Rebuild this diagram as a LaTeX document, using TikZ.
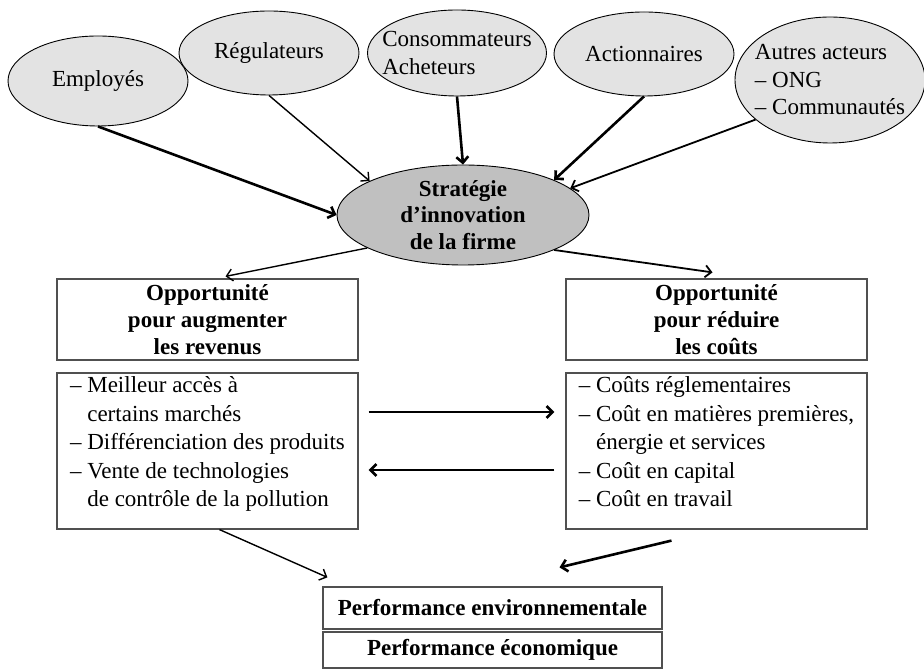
\documentclass[tikz,border=0pt]{standalone}
\usepackage{fontspec}
\setmainfont{Liberation Serif}
\usetikzlibrary{shapes.geometric,arrows.meta}
\definecolor{actorgray}{HTML}{E3E3E3}
\definecolor{hubgray}{HTML}{C0C0C0}
\definecolor{framegray}{HTML}{505050}

\begin{document}
\begin{tikzpicture}[x=1pt,y=1pt,
  every node/.style={font=\fontsize{23}{27.5}\selectfont},
  actor/.style={ellipse,draw,line width=0.9pt,fill=actorgray,inner xsep=-30pt,inner ysep=-10pt},
  hub/.style={ellipse,draw,line width=0.9pt,fill=hubgray,inner xsep=-30pt,inner ysep=-10pt,
    minimum width=252pt,minimum height=100pt,align=center,font=\fontsize{23}{26.5}\selectfont\bfseries},
  headbox/.style={draw=framegray,line width=1.2pt,minimum width=301pt,minimum height=81pt,
    inner sep=0pt,align=center,font=\fontsize{23}{27}\selectfont\bfseries},
  listbox/.style={draw=framegray,line width=1.2pt,minimum width=301pt,inner xsep=8pt,inner ysep=0pt,
    minimum height=156pt,align=left,font=\fontsize{23}{28.5}\selectfont},
  perfbox/.style={draw=framegray,line width=1.2pt,minimum width=339pt,inner sep=0pt,
    font=\fontsize{23}{27}\selectfont\bfseries},
  tip/.style={-{Straight Barb[length=6pt,width=12pt]}},
  thinlink/.style={tip,line width=1.4pt},
  midlink/.style={tip,line width=1.8pt},
  fatlink/.style={tip,line width=2.6pt}]
  \useasboundingbox (0,0) rectangle (924,669);

  % parties prenantes
  \node[actor,minimum width=180pt,minimum height=90pt] (employes) at (98,588) {Employés};
  \node[actor,minimum width=180pt,minimum height=84pt] (regul) at (269,616) {Régulateurs};
  \node[actor,minimum width=179pt,minimum height=86pt,align=left] (conso) at (457,616) {Consommateurs\\Acheteurs};
  \node[actor,minimum width=180pt,minimum height=84pt] (action) at (644,615) {Actionnaires};
  \node[actor,minimum width=190pt,minimum height=126pt,align=left] (autres) at (830,589) {Autres acteurs\\– ONG\\– Communautés};

  \node[hub] (strat) at (463,454) {Stratégie\\d’innovation\\de la firme};

  % opportunites
  \node[headbox] (revenus) at (207.5,349.5) {Opportunité\\pour augmenter\\les revenus};
  \node[headbox] (couts) at (716.5,349.5) {Opportunité\\pour réduire\\les coûts};
  \node[listbox] (revlist) at (207.5,218) {– Meilleur accès à\\\phantom{– }certains marchés\\– Différenciation des produits\\– Vente de technologies\\\phantom{– }de contrôle de la pollution\rule[-18pt]{0pt}{18pt}};
  \node[listbox] (costlist) at (716.5,218) {– Coûts réglementaires\\– Coût en matières premières,\\\phantom{– }énergie et services\\– Coût en capital\\– Coût en travail\rule[-18pt]{0pt}{18pt}};

  % performance
  \node[perfbox,minimum height=42pt] (envperf) at (492.5,61) {Performance environnementale};
  \node[perfbox,minimum height=36pt] (ecoperf) at (492.5,19) {Performance économique};

  \draw[fatlink] (employes.south) -- (strat.west);
  \draw[thinlink] (regul.south) -- (strat.160);
  \draw[fatlink] (conso.south) -- (strat.north);
  \draw[fatlink] (action.south) -- (strat.21);
  \draw[midlink] (autres.208) -- (strat.14);
  \draw[thinlink] (strat.199) -- ([xshift=18pt,yshift=2pt]revenus.north);
  \draw[midlink] (strat.339) -- ([xshift=-4pt,yshift=6pt]couts.north);
  \draw[fatlink] ([xshift=10pt,yshift=39pt]revlist.east) -- ([xshift=-11pt,yshift=39pt]costlist.west);
  \draw[fatlink] ([xshift=-11pt,yshift=-19pt]costlist.west) -- ([xshift=10pt,yshift=-19pt]revlist.east);
  \draw[thinlink] ([xshift=12pt]revlist.south) -- ([xshift=5pt,yshift=9pt]envperf.north west);
  \draw[fatlink] ([xshift=-45pt,yshift=-11pt]costlist.south) -- ([xshift=67pt,yshift=19pt]envperf.north);
\end{tikzpicture}
\end{document}
